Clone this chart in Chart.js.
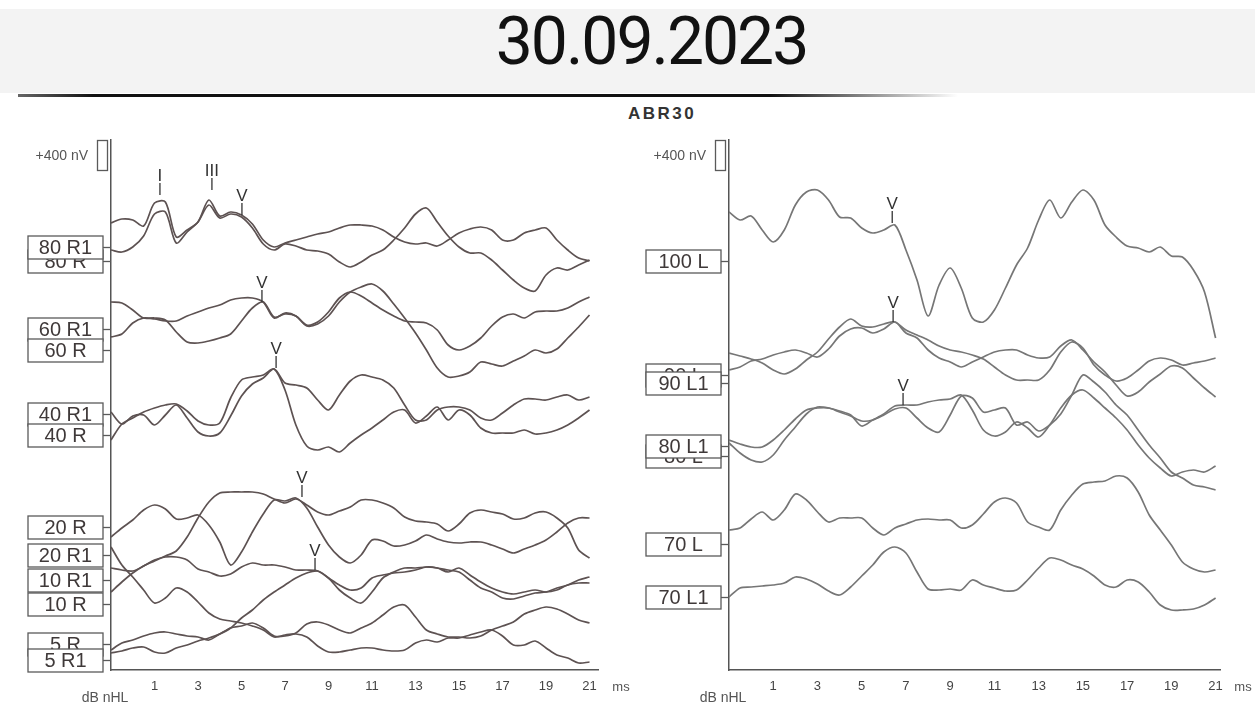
<!DOCTYPE html>
<html>
<head>
<meta charset="utf-8">
<script src="https://cdn.jsdelivr.net/npm/chart.js@4.4.1/dist/chart.umd.min.js"></script>
<style>
  html, body { margin: 0; padding: 0; background: #fff; }
  body { width: 1255px; height: 703px; position: relative; overflow: hidden; font-family: "Liberation Sans", Arial, sans-serif; }
  #band { position: absolute; left: 0; top: 9px; width: 1255px; height: 84px; background: #f3f3f3; }
  #title { position: absolute; left: 24px; top: 9px; width: 1255px; text-align: center; font-family: Roboto, sans-serif; font-size: 66px; line-height: 66px; letter-spacing: -2px; color: #111; }
  #rule { position: absolute; left: 18px; top: 94px; width: 940px; height: 3px; background: linear-gradient(to right, #666, #111 8%, #111 80%, rgba(20,20,20,0)); }
  #abr { position: absolute; left: 628px; top: 104px; font-size: 17px; font-weight: bold; letter-spacing: 2.5px; color: #333; }
  canvas { position: absolute; }
</style>
</head>
<body>
<div id="band"></div>
<div id="title">30.09.2023</div>
<div id="rule"></div>
<div id="abr">ABR30</div>
<canvas id="left" width="640" height="607" style="left:0;top:96px"></canvas>
<canvas id="right" width="630" height="607" style="left:625px;top:96px"></canvas>
<script>
// Time axis (ms), one sample every 0.5 ms
const timeMs = [-1,-0.5,0,0.5,1,1.5,2,2.5,3,3.5,4,4.5,5,5.5,6,6.5,7,7.5,8,8.5,9,9.5,10,10.5,11,11.5,12,12.5,13,13.5,14,14.5,15,15.5,16,16.5,17,17.5,18,18.5,19,19.5,20,20.5,21];
const xTickMs = [1,3,5,7,9,11,13,15,17,19,21];

// Trace levels (scale units, 30 units = 400 nV), right ear
const r80a = [447,451,450,444,467,468,433,440,448,470,454,458,455,446,430,423,427,430,433,436,438,442,445,445,444,440,433,428,426,427,424,430,437,441,443,440,430,430,437,440,442,430,420,412,409];
const r80b = [420,418,423,434,456,458,427,438,448,465,452,456,453,442,426,420,426,424,420,419,416,408,403,408,415,420,430,442,456,462,448,434,423,417,417,410,400,390,382,379,395,402,400,405,410];
const r60a = [368,367,360,352,352,350,338,328,327,329,332,336,349,362,368,353,356,354,345,348,358,372,378,374,367,360,354,349,348,347,340,325,320,324,332,344,353,356,352,358,359,359,362,368,373];
const r60b = [333,336,347,352,351,349,349,354,358,362,365,370,372,372,368,352,357,354,344,346,354,368,378,383,386,379,366,352,337,320,302,293,294,298,308,306,304,309,314,320,317,321,332,343,355];
const r40a = [258,246,254,255,245,255,265,252,238,234,237,254,274,286,292,301,287,285,282,270,260,275,289,295,293,290,282,265,250,250,260,263,263,260,252,250,257,265,271,271,270,273,275,270,273];
const r40b = [230,246,252,258,262,265,266,259,249,245,247,272,290,293,295,301,280,245,224,220,223,218,227,235,242,250,258,260,247,254,263,250,260,255,242,237,237,237,240,236,237,240,245,252,260];
const r20a = [133,142,150,160,165,161,151,152,155,145,128,105,118,138,156,170,169,172,162,143,125,113,107,115,130,129,124,125,129,135,131,128,127,128,128,125,121,117,121,125,130,138,147,152,152];
const r20b = [78,88,97,104,109,114,119,133,152,168,177,178,178,178,176,171,167,171,165,158,155,159,163,170,170,167,162,153,149,148,146,139,146,157,160,158,156,151,152,157,158,152,142,120,112];
const r10a = [102,100,99,104,110,113,113,110,101,98,94,96,103,107,105,105,103,100,100,99,92,85,80,82,92,95,97,98,100,103,102,98,102,95,88,82,78,76,78,80,78,80,85,87,87];
const r10b = [123,105,93,80,67,72,82,78,68,57,51,49,47,44,40,33,35,36,33,24,18,18,20,22,22,20,19,20,27,30,28,32,32,35,38,40,34,25,25,29,22,15,12,7,8];
const r5a = [20,27,30,34,37,38,36,34,33,30,36,42,44,47,42,34,34,37,46,48,45,40,37,42,47,55,63,65,53,40,36,33,33,32,34,40,44,48,56,60,63,61,56,50,47];
const r5b = [17,19,22,23,18,17,22,25,29,32,36,42,52,60,70,78,85,92,97,99,92,80,72,67,78,92,98,102,102,103,102,100,98,90,82,78,72,71,74,77,78,82,85,90,93];

// Left ear
const l100 = [458,450,454,440,428,440,465,478,480,470,453,452,442,437,440,445,420,390,354,385,402,382,352,348,360,382,405,422,450,470,452,468,480,470,445,433,424,422,418,423,414,413,400,378,332];
const l90a = [317,314,311,307,300,296,301,310,318,331,343,351,344,343,346,348,340,335,330,324,320,318,315,311,303,295,290,290,290,300,318,328,322,305,295,289,292,300,309,312,310,305,307,309,312];
const l90b = [300,303,309,311,315,318,320,317,313,321,334,341,342,337,341,348,337,332,320,312,308,303,308,313,318,320,320,315,312,313,324,330,320,308,298,285,274,278,288,296,304,302,292,282,273];
const l80a = [230,226,223,223,230,240,251,260,262,262,258,254,249,250,255,261,262,252,242,238,255,274,272,258,260,262,245,248,239,245,256,275,295,288,278,265,255,240,225,212,198,192,185,183,180];
const l80b = [227,217,210,208,215,230,243,256,263,262,259,255,244,250,256,264,265,265,268,270,271,275,260,240,234,238,248,242,233,245,262,275,280,272,262,252,240,225,212,202,194,198,200,198,204];
const l70a = [140,142,151,158,150,160,176,170,158,148,152,152,152,142,135,142,146,150,151,150,150,142,145,156,168,172,167,148,143,140,160,175,186,188,189,194,192,178,155,140,125,108,101,98,100];
const l70b = [73,82,83,84,85,87,93,91,86,79,75,83,94,105,118,123,117,98,81,80,81,80,90,85,82,79,80,90,102,112,110,105,101,94,85,83,90,88,78,65,60,60,61,65,72];

// Trace names
const leftNames = ['80 R', '80 R1', '60 R1', '60 R', '40 R1', '40 R', '20 R', '20 R1', '10 R1', '10 R', '5 R', '5 R1'];
const rightNames = ['100 L', '90 L', '90 L1', '80 L', '80 L1', '70 L', '70 L1'];

// Peak markers: name, latency (ms), level
const leftPeakNames = ['I', 'III', 'V', 'V', 'V', 'V', 'V'];
const leftPeakMs = [1.25, 3.64, 5.02, 5.94, 6.59, 7.78, 8.38];
const leftPeakLevels = [475, 480, 455, 368, 302, 173, 100];
const rightPeakNames = ['V', 'V', 'V'];
const rightPeakMs = [6.38, 6.42, 6.87];
const rightPeakLevels = [447, 348, 265];

// Layout: label box centres (in level units)
const leftNameLevels = [409.5, 423.5, 341, 320, 256, 235, 143.5, 115.5, 90, 66, 26.5, 10];
const rightNameLevels = [409.5, 295.5, 287.5, 214, 224, 126, 73.5];

const levelMax = 530;
const barUnits = 30; // 400 nV

const overlay = {
  id: 'overlay',
  afterDraw(chart, args, opts) {
    const { ctx, chartArea: a, scales: { x, y } } = chart;
    ctx.save();
    ctx.strokeStyle = '#5a5a5a';
    ctx.lineWidth = 1.3;

    // +400 nV scale bar
    const bt = y.getPixelForValue(levelMax);
    const bb = y.getPixelForValue(levelMax - barUnits);
    ctx.strokeRect(a.left - 13.5, bt + 0.5, 10, bb - bt);
    ctx.fillStyle = '#555';
    ctx.font = '14px "Liberation Sans"';
    ctx.textAlign = 'right';
    ctx.textBaseline = 'middle';
    ctx.fillText('+400 nV', a.left - 23, (bt + bb) / 2 + 1);

    // label boxes
    const boxW = 75, boxH = 23;
    ctx.textAlign = 'center';
    ctx.font = '20px "Liberation Sans"';
    opts.names.forEach((txt, i) => {
      const cy = Math.round(y.getPixelForValue(opts.levels[i])) + 0.5;
      const right = a.left - 8, left = right - boxW;
      ctx.fillStyle = '#fff';
      ctx.fillRect(left, cy - boxH / 2, boxW, boxH);
      ctx.strokeRect(left, cy - boxH / 2, boxW, boxH);
      ctx.beginPath();
      ctx.moveTo(right, cy);
      ctx.lineTo(a.left, cy);
      ctx.stroke();
      ctx.fillStyle = '#3f3939';
      ctx.fillText(txt, left + boxW / 2, cy + 1);
    });

    // peak markers
    ctx.font = '17px "Liberation Sans"';
    ctx.textBaseline = 'alphabetic';
    ctx.strokeStyle = '#333';
    opts.peakNames.forEach((p, i) => {
      const px = x.getPixelForValue(opts.peakMs[i]);
      const py = y.getPixelForValue(opts.peakLevels[i]);
      ctx.beginPath();
      ctx.moveTo(px, py);
      ctx.lineTo(px, py - 12);
      ctx.stroke();
      ctx.fillStyle = '#333';
      ctx.fillText(p, px, py - 14);
    });

    // axis names
    ctx.fillStyle = '#555';
    ctx.font = '13px "Liberation Sans"';
    ctx.textBaseline = 'middle';
    ctx.fillText('ms', a.right + 23, a.bottom + 17);
    ctx.font = '14px "Liberation Sans"';
    ctx.fillText('dB nHL', a.left - 6, a.bottom + 28);
    ctx.restore();
  }
};

function makePanel(id, traces, color, pad, xMax, names, levels, peakNames, peakMs, peakLevels) {
  return new Chart(document.getElementById(id), {
    type: 'line',
    data: {
      datasets: traces.map((vals) => ({
        data: vals.map((v, i) => ({ x: timeMs[i], y: v })),
        borderColor: color,
        borderWidth: 1.7,
        pointRadius: 0,
        tension: 0.3,
        borderJoinStyle: 'round'
      }))
    },
    options: {
      responsive: false,
      animation: false,
      layout: { padding: pad },
      plugins: {
        legend: { display: false },
        tooltip: { enabled: false },
        overlay: { names, levels, peakNames, peakMs, peakLevels }
      },
      scales: {
        x: {
          type: 'linear',
          min: -1,
          max: xMax,
          afterBuildTicks: (s) => { s.ticks = xTickMs.map((v) => ({ value: v })); },
          afterFit: (s) => { s.height = 33; },
          grid: { display: false, drawTicks: false },
          border: { display: true, color: '#555', width: 1.5 },
          ticks: { color: '#444', font: { family: 'Liberation Sans', size: 13 }, padding: 9, maxRotation: 0 }
        },
        y: {
          min: 0,
          max: levelMax,
          afterFit: (s) => { s.width = 0; },
          grid: { display: false, drawTicks: false },
          border: { display: true, color: '#555', width: 1.5 },
          ticks: { display: false }
        }
      }
    },
    plugins: [overlay]
  });
}

makePanel('left',
  [r80a, r80b, r60a, r60b, r40a, r40b, r20a, r20b, r10a, r10b, r5a, r5b],
  '#5d5252', { left: 111, right: 42, top: 44, bottom: 0 }, 21.39,
  leftNames, leftNameLevels, leftPeakNames, leftPeakMs, leftPeakLevels);

makePanel('right',
  [l100, l90a, l90b, l80a, l80b, l70a, l70b],
  '#767676', { left: 104, right: 35, top: 44, bottom: 0 }, 21.2,
  rightNames, rightNameLevels, rightPeakNames, rightPeakMs, rightPeakLevels);
</script>
</body>
</html>
